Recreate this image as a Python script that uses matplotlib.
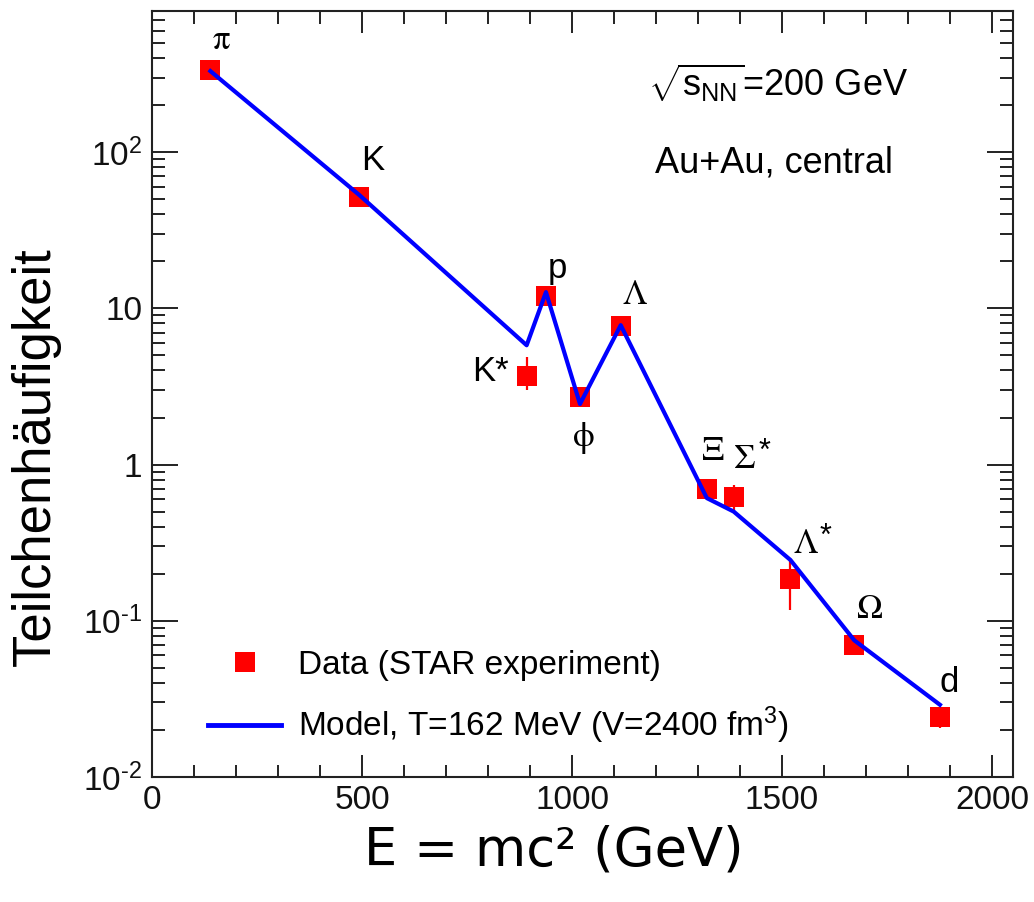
import numpy as np
import matplotlib
matplotlib.use('Agg')
import matplotlib.pyplot as plt
from matplotlib.ticker import FixedLocator, FixedFormatter, LogLocator, NullFormatter, MultipleLocator
from matplotlib.lines import Line2D

# === DATA ===
particles = ['pi', 'K', 'Kstar', 'p', 'phi', 'Lambda', 'Xi', 'Sigmastar', 'Lambdastar', 'Omega', 'd']
labels = ['\u03c0', 'K', 'K*', 'p', '\u03d5', '\u039b', '\u039e', '\u03a3', '\u039b', '\u03a9', 'd']
stars = [False, False, False, False, False, False, False, True, True, False, False]
mass = np.array([139, 494, 892, 938, 1019, 1116, 1321, 1385, 1520, 1672, 1876])
data_yield = np.array([335, 51.5, 3.68, 12.0, 2.7, 7.7, 0.70, 0.62, 0.185, 0.070, 0.0242])
err_low = np.array([0, 0, 0.68, 0, 0, 0, 0, 0.12, 0.068, 0, 0.0036])
err_high = np.array([0, 0, 1.19, 0, 0, 0, 0, 0.12, 0.067, 0, 0.0036])
model_yield = np.array([330, 53, 5.8, 12.7, 2.44, 7.8, 0.61, 0.50, 0.245, 0.075, 0.029])

y_ticks = [1e-2, 1e-1, 1, 10, 1e2]
y_ticklabels = [r'$10^{\text{-2}}$', r'$10^{\text{-1}}$', '1', '10', r'$10^{2}$']

# label offsets (points) from data point
label_offsets = [(8, 21), (9.5, 26.5), (-13, 3), (8, 20), (3, -29.5), (10, 22),
                 (4.5, 26.5), (8, 26.5), (11, 24.5), (11.5, 25), (7, 25)]
label_ha = ['center', 'center', 'right', 'center', 'center', 'center',
            'center', 'center', 'center', 'center', 'center']
greek = [True, False, False, False, True, True, True, True, True, True, False]

plt.rcParams['font.family'] = ['Liberation Sans', 'DejaVu Sans']
plt.rcParams['mathtext.fontset'] = 'custom'
plt.rcParams['mathtext.rm'] = 'Liberation Sans'
plt.rcParams['mathtext.it'] = 'Liberation Sans'

W, H = 1034, 902
fig = plt.figure(figsize=(W / 100, H / 100), dpi=100)
ax = fig.add_axes([152 / W, 1 - 777 / H, (1013 - 152) / W, (777 - 11) / H])

ax.errorbar(mass, data_yield, yerr=[err_low, err_high], fmt='s', color='#ff0000',
            ms=14.5, mew=0, elinewidth=1.6, capsize=3.5, capthick=1.6, zorder=2,
            label='Data (STAR experiment)')
ax.plot(mass, model_yield, color='#0000ff', lw=3, zorder=3,
        label=r'Model, T=162 MeV (V=2400 fm$^{3}$)')

ax.set_yscale('log')
ax.set_xlim(0, 2050)
ax.set_ylim(1e-2, 800)

ax.yaxis.set_major_locator(FixedLocator(y_ticks))
ax.yaxis.set_major_formatter(FixedFormatter(y_ticklabels))
ax.yaxis.set_minor_locator(LogLocator(base=10, subs=np.arange(2, 10)))
ax.yaxis.set_minor_formatter(NullFormatter())
ax.xaxis.set_major_locator(MultipleLocator(500))
ax.xaxis.set_minor_locator(MultipleLocator(100))

ax.tick_params(which='both', direction='in', top=True, right=True, width=1.4,
               color='#222222', labelcolor='#111111')
ax.tick_params(axis='y', which='major', length=19, pad=7, labelsize=24)
ax.tick_params(axis='y', which='minor', length=9.5)
ax.tick_params(axis='x', which='major', length=16, pad=6, labelsize=24)
ax.tick_params(axis='x', which='minor', length=9)
for sp in ax.spines.values():
    sp.set_linewidth(1.5)
    sp.set_color('#222222')

for i in range(len(mass)):
    fam = ['STIXGeneral', 'DejaVu Serif'] if greek[i] else ['Liberation Sans']
    ax.annotate(labels[i], (mass[i], data_yield[i]), xytext=label_offsets[i],
                textcoords='offset points', ha=label_ha[i], va='center',
                fontsize=25, family=fam)
    if stars[i]:
        ax.annotate('*', (mass[i], data_yield[i]), xytext=(label_offsets[i][0] + 14, label_offsets[i][1] + 6),
                    textcoords='offset points', ha='center', va='center', fontsize=22)

fig.text(648 / W, 1 - 83 / H, r'$\sqrt{s_{\rm NN}}$=200 GeV', fontsize=26, va='center', ha='left')
fig.text(655 / W, 1 - 163 / H, 'Au+Au, central', fontsize=26, va='center', ha='left')

handles = [Line2D([], [], marker='s', color='#ff0000', ms=14.5, mew=0, ls='none'),
           Line2D([], [], color='#0000ff', lw=3.5)]
ax.legend(handles, ['Data (STAR experiment)', r'Model, T=162 MeV (V=2400 fm$^{3}$)'],
          loc='upper left', bbox_to_anchor=((208 - 152) / 861, (777 - 650) / 766),
          frameon=False, fontsize=24, borderpad=0, borderaxespad=0,
          handlelength=2.2, handletextpad=0.5, labelspacing=0.72)

fig.text(554 / W, 1 - 850 / H, 'E = mc² (GeV)', fontsize=38, family=['DejaVu Sans'],
         ha='center', va='center')
fig.text(36 / W, 1 - 457 / H, 'Teilchenhäufigkeit', fontsize=38, rotation=90,
         ha='center', va='center')

fig.savefig('out.png', dpi=100)
